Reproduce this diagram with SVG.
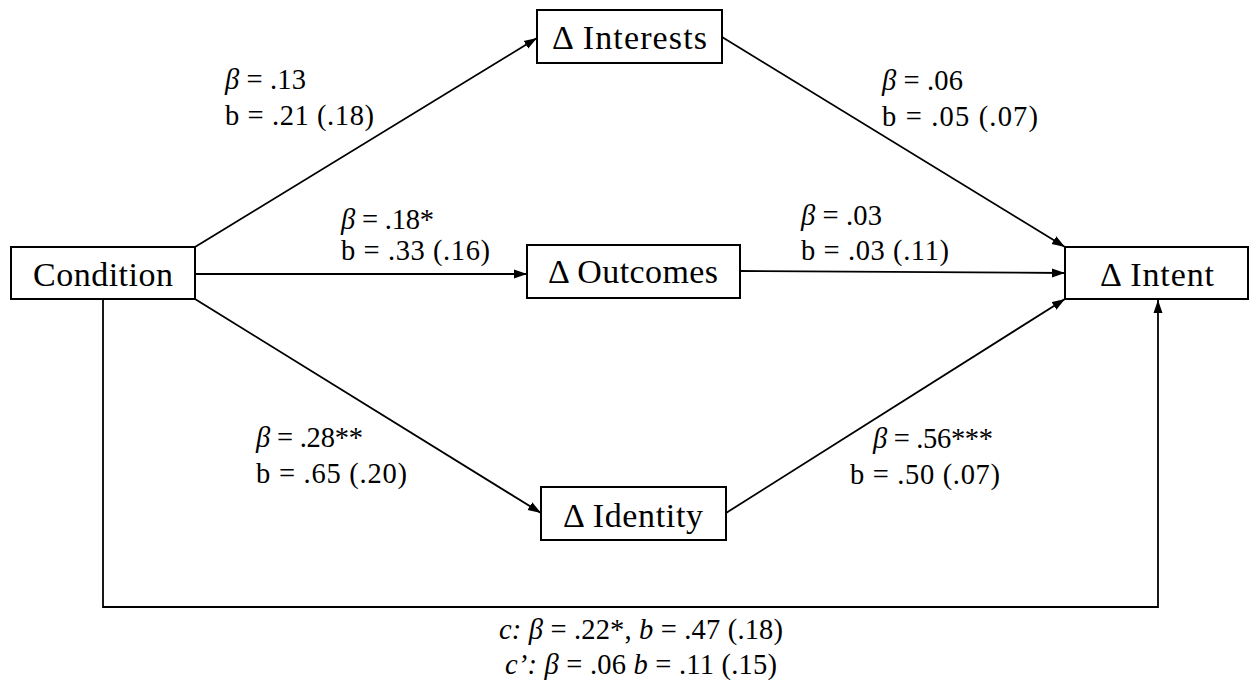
<svg xmlns="http://www.w3.org/2000/svg" width="1249" height="685" viewBox="0 0 1249 685">
<style>
.box{fill:#fff;stroke:#000;stroke-width:2}
.node{font-family:"Liberation Serif","Times New Roman",serif;font-size:34px;fill:#000}
.lbl{font-family:"Liberation Serif","Times New Roman",serif;font-size:28.5px;fill:#000}
.it{font-style:italic}
.conn{fill:none;stroke:#000;stroke-width:1.8}
</style>
<defs>
<marker id="arr" markerUnits="userSpaceOnUse" markerWidth="14" markerHeight="10" refX="13" refY="5" orient="auto">
<path d="M0,0.5 L13,5 L0,9.5 z" fill="#000"/>
</marker>
</defs>
<rect width="1249" height="685" fill="#fff"/>
<g id="connectors">
<line class="conn" x1="195" y1="247" x2="537" y2="38" marker-end="url(#arr)"/>
<line class="conn" x1="195" y1="274" x2="527" y2="274" marker-end="url(#arr)"/>
<line class="conn" x1="195" y1="299" x2="541" y2="513" marker-end="url(#arr)"/>
<line class="conn" x1="722" y1="37" x2="1065" y2="247" marker-end="url(#arr)"/>
<line class="conn" x1="740" y1="271" x2="1065" y2="273" marker-end="url(#arr)"/>
<line class="conn" x1="726" y1="513" x2="1065" y2="299" marker-end="url(#arr)"/>
<polyline class="conn" points="103,299 103,607 1158,607 1158,300" marker-end="url(#arr)"/>
</g>
<g id="condition">
<rect class="box" x="11" y="247" width="184" height="52"/>
<text class="node" x="33" y="286" textLength="140" lengthAdjust="spacing">Condition</text>
</g>
<g id="interests">
<rect class="box" x="537" y="10" width="185" height="53"/>
<text class="node" x="552" y="49" textLength="155" lengthAdjust="spacing">Δ Interests</text>
</g>
<g id="outcomes">
<rect class="box" x="527" y="245" width="213" height="53"/>
<text class="node" x="548" y="283" textLength="170" lengthAdjust="spacing">Δ Outcomes</text>
</g>
<g id="identity">
<rect class="box" x="541" y="487" width="185" height="53"/>
<text class="node" x="563" y="527" textLength="140" lengthAdjust="spacing">Δ Identity</text>
</g>
<g id="intent">
<rect class="box" x="1065" y="247" width="183" height="52"/>
<text class="node" x="1100" y="286" textLength="114" lengthAdjust="spacing">Δ Intent</text>
</g>
<g id="labels">
<text class="lbl" x="225" y="89" textLength="81" lengthAdjust="spacing"><tspan class="it">β</tspan> = .13</text>
<text class="lbl" x="225" y="125" textLength="149" lengthAdjust="spacing">b = .21 (.18)</text>
<text class="lbl" x="341" y="229" textLength="93" lengthAdjust="spacing"><tspan class="it">β</tspan> = .18*</text>
<text class="lbl" x="341" y="260" textLength="149" lengthAdjust="spacing">b = .33 (.16)</text>
<text class="lbl" x="882" y="90" textLength="81" lengthAdjust="spacing"><tspan class="it">β</tspan> = .06</text>
<text class="lbl" x="882" y="126" textLength="156" lengthAdjust="spacing">b =  .05 (.07)</text>
<text class="lbl" x="801" y="225" textLength="81" lengthAdjust="spacing"><tspan class="it">β</tspan> = .03</text>
<text class="lbl" x="801" y="260" textLength="148" lengthAdjust="spacing">b = .03 (.11)</text>
<text class="lbl" x="256" y="447" textLength="107" lengthAdjust="spacing"><tspan class="it">β</tspan> = .28**</text>
<text class="lbl" x="256" y="483" textLength="151" lengthAdjust="spacing">b = .65 (.20)</text>
<text class="lbl" x="873" y="448" textLength="120" lengthAdjust="spacing"><tspan class="it">β</tspan> = .56***</text>
<text class="lbl" x="850" y="484" textLength="150" lengthAdjust="spacing">b = .50 (.07)</text>
<text class="lbl" x="499" y="639" textLength="284" lengthAdjust="spacing"><tspan class="it">c: β</tspan> = .22*, <tspan class="it">b</tspan> = .47 (.18)</text>
<text class="lbl" x="505" y="674" textLength="272" lengthAdjust="spacing"><tspan class="it">c’: β</tspan> = .06 <tspan class="it">b</tspan> = .11 (.15)</text>
</g>
</svg>
